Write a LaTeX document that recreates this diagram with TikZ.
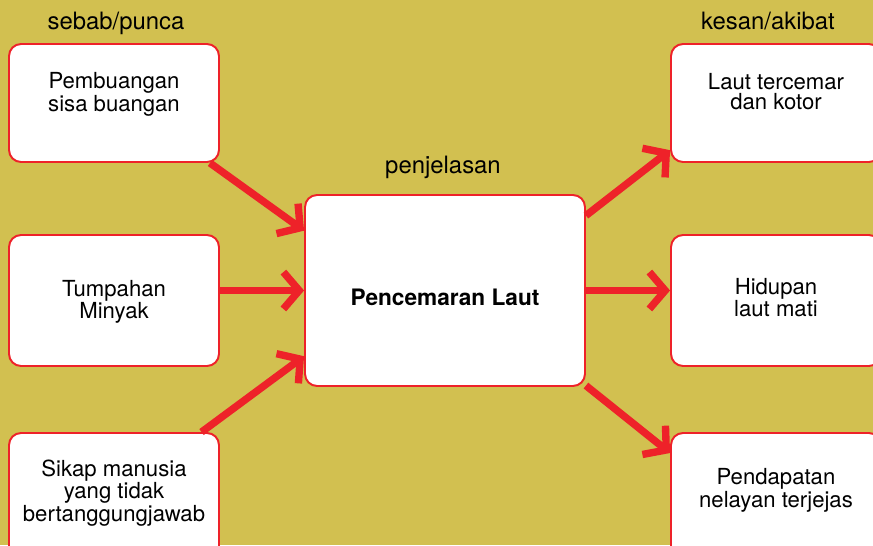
\documentclass[tikz,border=0pt]{standalone}
\usepackage{fontspec}
\setmainfont{TeX Gyre Heros}
\usetikzlibrary{arrows.meta, positioning}

\definecolor{bgolive}{HTML}{D2C050}
\definecolor{redline}{HTML}{EE2229}

\tikzset{
  box/.style={draw=redline, fill=white, line width=1.1pt, rounded corners=0.24cm, inner sep=0pt},
  txt/.style={align=center, font=\fontsize{12.6}{11.3}\selectfont, inner sep=0pt},
  head/.style={anchor=base, inner sep=0pt, font=\fontsize{13.6}{14}\selectfont},
  arr/.style={draw=redline, line width=4.2pt, -{Straight Barb[length=9pt,width=21pt]}}
}

\begin{document}
\begin{tikzpicture}[x=0.02cm, y=-0.02cm]
\useasboundingbox (0,0) rectangle (873,545);
\fill[bgolive] (0,0) rectangle (873,545);

% sebab
\node[box, minimum width=4.2cm, minimum height=2.36cm] (b1) at (114,103) {};
\node[box, minimum width=4.2cm, minimum height=2.62cm] (b2) at (114,300.5) {};
\node[box, minimum width=4.2cm, minimum height=2.6cm] (b3) at (114,498) {};
% penjelasan
\node[box, minimum width=5.6cm, minimum height=3.82cm] (c) at (445,290.5) {};
% kesan
\node[box, minimum width=4.2cm, minimum height=2.36cm] (r1) at (776,103) {};
\node[box, minimum width=4.2cm, minimum height=2.62cm] (r2) at (776,300.5) {};
\node[box, minimum width=4.2cm, minimum height=2.6cm] (r3) at (776,498) {};

\node[txt] (t1) at (114,94) {Pembuangan\\sisa buangan};
\node[txt, font=\fontsize{12.6}{12.4}\selectfont] (t2) at (114,302) {Tumpahan\\Minyak};
\node[txt, font=\fontsize{12.6}{10}\selectfont] (t3) at (114,493) {Sikap manusia\\yang tidak\\bertanggungjawab};
\node[txt, font=\bfseries\fontsize{12.9}{11}\selectfont] (tc) at (445,297) {Pencemaran Laut};
\node[txt] (u1) at (776,92) {Laut tercemar\\dan kotor};
\node[txt, font=\fontsize{12.6}{10.4}\selectfont] (u2) at (776,297.5) {Hidupan\\laut mati};
\node[txt, font=\fontsize{12.6}{10.8}\selectfont] (u3) at (776,490) {Pendapatan\\nelayan terjejas};

\node[head] (lsebab) at (116,29) {sebab/punca};
\node[head] (lkesan) at (768,29) {kesan/akibat};
\node[head] (lpenj) at (443,173) {penjelasan};

\draw[arr] (b1.-32) -- (c.157);
\draw[arr] (b2.east |- c.west) -- (c.west);
\draw[arr] (b3.37) -- (c.205);
\draw[arr] (c.28) -- (r1.204);
\draw[arr] (c.east) -- (c.east -| r2.west);
\draw[arr] (c.-34) -- (r3.157);
\end{tikzpicture}
\end{document}
